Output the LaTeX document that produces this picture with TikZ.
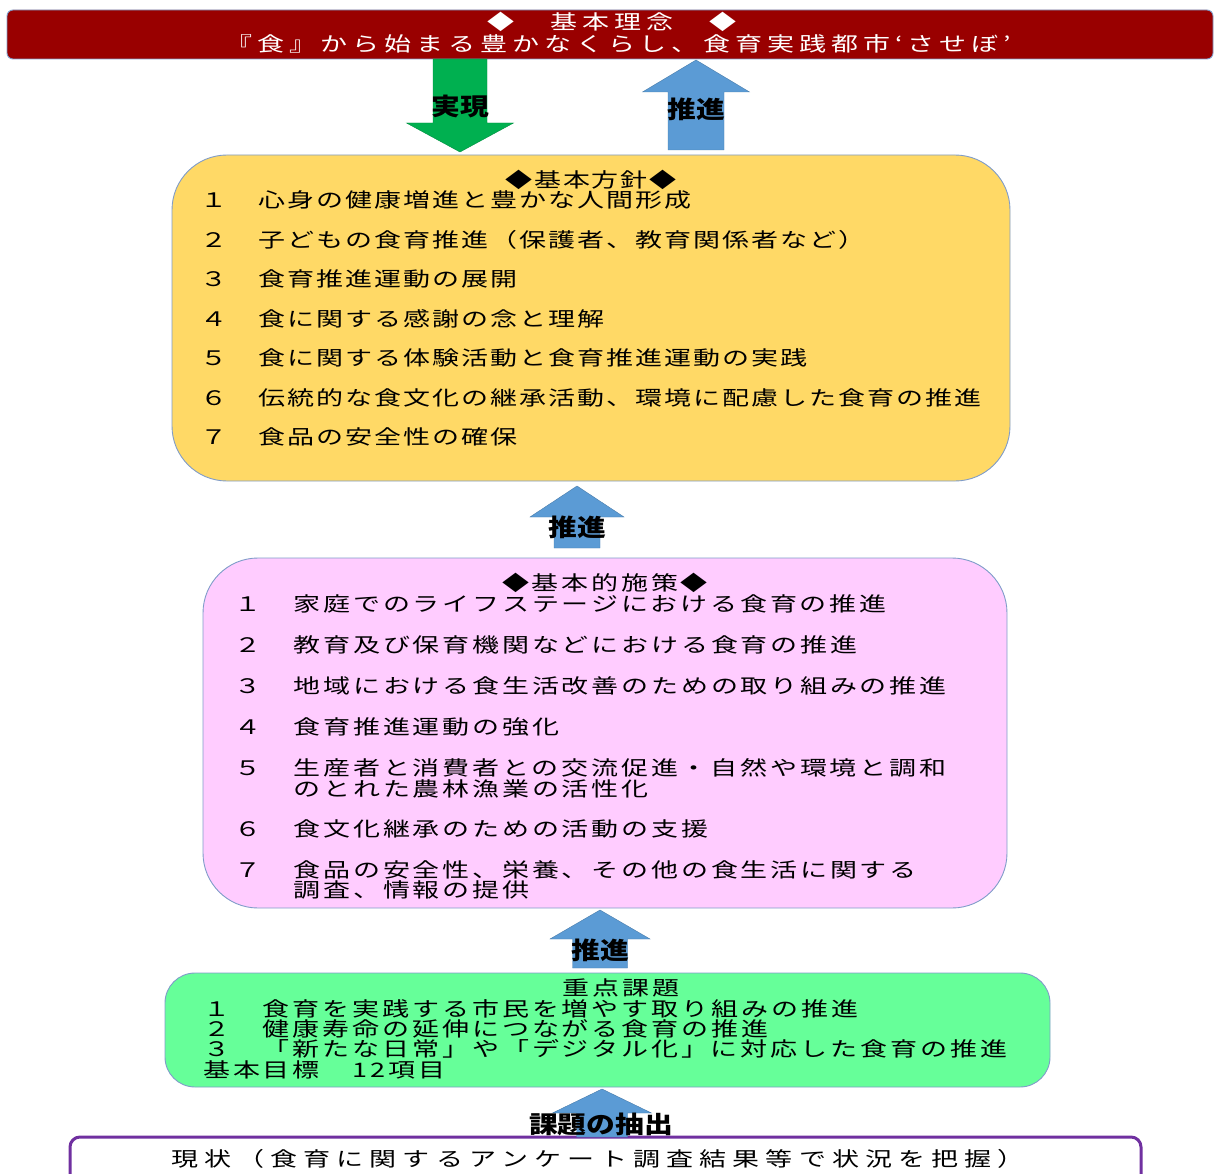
\documentclass[tikz,border=0pt]{standalone}
\usepackage{fontspec}
\newfontfamily\jp[FakeStretch=1.35]{Noto Sans CJK JP}
\newfontfamily\jpb[FakeStretch=1.2]{Noto Sans CJK JP}
\definecolor{banred}{HTML}{990000}
\definecolor{edgeblue}{HTML}{7F9CC9}
\definecolor{polyellow}{HTML}{FFD966}
\definecolor{mespink}{HTML}{FFCCFF}
\definecolor{keygreen}{HTML}{66FF99}
\definecolor{arrblue}{HTML}{5B9BD5}
\definecolor{arrgreen}{HTML}{00B050}
\definecolor{nowpurple}{HTML}{7030A0}
\tikzset{
  panel/.style={draw=edgeblue, line width=0.9pt, inner sep=0pt},
  txt/.style={inner sep=0pt, yshift=-7.6pt,
    font=\jp\fontsize{20}{20}\selectfont\addfontfeature{LetterSpace=#1}},
  item/.style={txt=#1, anchor=base west},
  head/.style={txt=#1, anchor=base},
  lbl/.style={inner sep=0pt, font=\jpb\bfseries\fontsize{24}{24}\selectfont}
}
\begin{document}
\begin{tikzpicture}[x=1pt,y=-1pt]
  \useasboundingbox (0,0) rectangle (1215,1174);
  \node[panel, fill=banred, rounded corners=6pt, minimum width=1206, minimum height=49] (idea) at (610,34.5) {};
  \node[panel, fill=polyellow, rounded corners=55pt, minimum width=838, minimum height=326] (policy) at (591,318) {};
  \node[panel, fill=mespink, rounded corners=55pt, minimum width=804, minimum height=350] (measure) at (605,733) {};
  \node[panel, fill=keygreen, rounded corners=30pt, minimum width=885, minimum height=114] (issue) at (607.5,1030) {};
  \node[draw=nowpurple, line width=3pt, fill=white, rounded corners=10pt, inner sep=0pt, minimum width=1071, minimum height=63] (now) at (605.5,1168.5) {};
  \foreach \cx/\yb/\yh/\yt/\sw/\hw/\c in {460/59/123/152/27/53.5/arrgreen, 696/150/92/60/28/53.5/arrblue,
      577/548/517/486/23/47/arrblue, 600/968/939/910/27.5/50/arrblue, 602/1137/1113/1089/25.5/49.5/arrblue}
    \filldraw[fill=\c, draw=\c!80!black, line width=0.4pt]
      (\cx-\sw,\yb) -- (\cx-\sw,\yh) -- (\cx-\hw,\yh) -- (\cx,\yt)
      -- (\cx+\hw,\yh) -- (\cx+\sw,\yh) -- (\cx+\sw,\yb) -- cycle;
  \node[lbl] (real) at (460,106) {実現};
  \node[lbl] (push1) at (696,109) {推進};
  \node[lbl] (push2) at (577,527) {推進};
  \node[lbl] (push3) at (600,950) {推進};
  \node[lbl] (extract) at (601,1124) {課題の抽出};
  \node[head=24, white] (ideat) at (612,22) {◆　基本理念　◆};
  \node[head=24.5, white] (idean) at (618,44) {『食』から始まる豊かなくらし、食育実践都市‘させぼ’};
  \node[head=9.5] (polt) at (591,180) {◆基本方針◆};
  \foreach \y/\t in {200/１　心身の健康増進と豊かな人間形成, 240/２　子どもの食育推進（保護者、教育関係者など）,
      279/３　食育推進運動の展開, 319/４　食に関する感謝の念と理解, 358/５　食に関する体験活動と食育推進運動の実践,
      398/６　伝統的な食文化の継承活動、環境に配慮した食育の推進, 437/７　食品の安全性の確保}
    \node[item=10] (pol\y) at (200,\y) {\t};
  \node[head=14] (mest) at (605,583) {◆基本的施策◆};
  \foreach \y/\t in {604/１　家庭でのライフステージにおける食育の推進, 645/２　教育及び保育機関などにおける食育の推進,
      686/３　地域における食生活改善のための取り組みの推進, 727/４　食育推進運動の強化,
      768/５　生産者と消費者との交流促進・自然や環境と調和, 789/　　のとれた農林漁業の活性化,
      829/６　食文化継承のための活動の支援, 870/７　食品の安全性、栄養、その他の食生活に関する,
      890/　　調査、情報の提供}
    \node[item=14] (mes\y) at (234,\y) {\t};
  \node[head=14] (isst) at (621,988) {重点課題};
  \foreach \y/\t in {1009/１　食育を実践する市民を増やす取り組みの推進, 1029/２　健康寿命の延伸につながる食育の推進,
      1049/３　「新たな日常」や「デジタル化」に対応した食育の推進, 1070/基本目標　12項目}
    \node[item=14.5] (iss\y) at (203,\y) {\t};
  \node[head=30.5] (nowt) at (598,1159) {現状（食育に関するアンケート調査結果等で状況を把握）};
\end{tikzpicture}
\end{document}
